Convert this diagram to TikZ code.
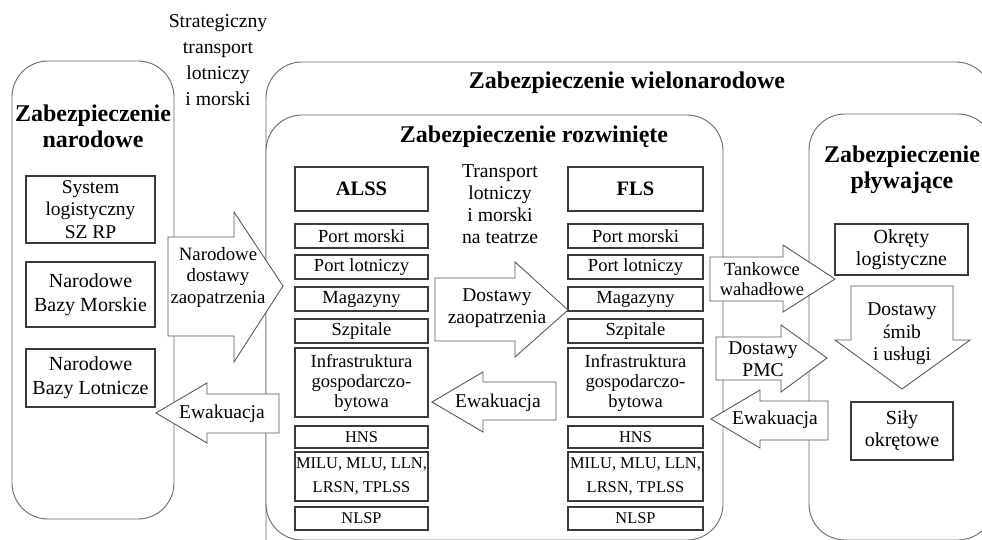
\documentclass[tikz,border=0pt]{standalone}
\usepackage{fontspec}
\setmainfont{Liberation Serif}
\definecolor{roundc}{HTML}{6A6A6A}
\definecolor{boxc}{HTML}{3A3A3A}
\definecolor{arrc}{HTML}{5A5A5A}
\newcommand\ftitle{\fontsize{24}{26}\selectfont\bfseries}
\newcommand\fbody{\fontsize{19.5}{22.5}\selectfont}
\newcommand\fcell{\fontsize{18.5}{20}\selectfont}
\newcommand\fcaps{\fontsize{16.4}{24}\selectfont}
\begin{document}
\begin{tikzpicture}[x=1pt,y=-1pt,
  panel/.style={draw=roundc, line width=0.9pt, fill=white, rounded corners=36pt},
  cell/.style={draw=boxc, line width=1.1pt, fill=white, inner sep=0pt, align=center, font=\fcell},
  blockarrow/.style={draw=arrc, line width=0.9pt, fill=white, line join=miter},
  txt/.style={inner sep=0pt, align=center}
]
\useasboundingbox (0,0) rectangle (982,540);
% rounded panels
\draw[panel] (266,62) rectangle (992,580);
\draw[panel] (266,115) rectangle (723,540);
\draw[panel] (809,114) rectangle (994,540);
\draw[panel] (12,61) rectangle (174,519);

% titles
\node[txt, font=\ftitle] (tnar) at (93,126.5) {Zabezpieczenie\\narodowe};
\node[txt, font=\ftitle] (twiel) at (627,83) {Zabezpieczenie wielonarodowe};
\node[txt, font=\ftitle] (trozw) at (534,137) {Zabezpieczenie rozwinięte};
\node[txt, font=\ftitle, text depth=0pt] (tplyw) at (902,167) {Zabezpieczenie\\pływające};

% free texts
\node[txt, font=\fontsize{19.7}{26}\selectfont] (strat) at (218,60) {Strategiczny\\transport\\lotniczy\\i morski};
\node[txt, font=\fontsize{19.7}{22}\selectfont] (teatr) at (500,204) {Transport\\lotniczy\\i morski\\na teatrze};

% left panel boxes
\node[cell, font=\fontsize{19.5}{22.5}\selectfont, minimum width=129pt, minimum height=67pt] (sys) at (90.5,209.5) {System\\logistyczny\\SZ RP};
\node[cell, font=\fontsize{20}{24}\selectfont, minimum width=129pt, minimum height=65pt] (nbm) at (90.5,294.5) {Narodowe\\Bazy Morskie};
\node[cell, font=\fontsize{20}{24}\selectfont, minimum width=129pt, minimum height=58pt] (nbl) at (90.5,378) {Narodowe\\Bazy Lotnicze};

% ALSS column
\node[cell, font=\fontsize{20.5}{22}\selectfont\bfseries, minimum width=133pt, minimum height=44pt] (alss) at (361.5,189) {ALSS};
\node[cell, minimum width=133pt, minimum height=24pt] (apm) at (361.5,236) {Port morski};
\node[cell, minimum width=133pt, minimum height=24pt] (apl) at (361.5,267) {Port lotniczy};
\node[cell, minimum width=133pt, minimum height=24pt] (amag) at (361.5,299) {Magazyny};
\node[cell, minimum width=133pt, minimum height=24pt] (aszp) at (361.5,331) {Szpitale};
\node[cell, minimum width=133pt, minimum height=69pt] (ainf) at (361.5,382.5) {Infrastruktura\\gospodarczo-\\bytowa};
\node[cell, font=\fcaps, minimum width=133pt, minimum height=22pt] (ahns) at (361.5,437) {HNS};
\node[cell, font=\fcaps, minimum width=133pt, minimum height=49pt] (amilu) at (361.5,476.5) {MILU, MLU, LLN,\\LRSN, TPLSS};
\node[cell, font=\fcaps, minimum width=133pt, minimum height=23pt] (anlsp) at (361.5,518.5) {NLSP};

% FLS column
\node[cell, font=\fontsize{20.5}{22}\selectfont\bfseries, minimum width=135pt, minimum height=44pt] (fls) at (635.5,189) {FLS};
\node[cell, minimum width=135pt, minimum height=24pt] (fpm) at (635.5,236) {Port morski};
\node[cell, minimum width=135pt, minimum height=24pt] (fpl) at (635.5,267) {Port lotniczy};
\node[cell, minimum width=135pt, minimum height=24pt] (fmag) at (635.5,299) {Magazyny};
\node[cell, minimum width=135pt, minimum height=24pt] (fszp) at (635.5,331) {Szpitale};
\node[cell, minimum width=135pt, minimum height=69pt] (finf) at (635.5,382.5) {Infrastruktura\\gospodarczo-\\bytowa};
\node[cell, font=\fcaps, minimum width=135pt, minimum height=22pt] (fhns) at (635.5,437) {HNS};
\node[cell, font=\fcaps, minimum width=135pt, minimum height=49pt] (fmilu) at (635.5,476.5) {MILU, MLU, LLN,\\LRSN, TPLSS};
\node[cell, font=\fcaps, minimum width=135pt, minimum height=23pt] (fnlsp) at (635.5,518.5) {NLSP};

% floating panel boxes
\node[cell, font=\fontsize{20}{22}\selectfont, minimum width=133pt, minimum height=51pt] (okr) at (901.5,249.5) {Okręty\\logistyczne};
\node[cell, font=\fontsize{20}{22}\selectfont, minimum width=102pt, minimum height=58pt] (sily) at (902,431) {Siły\\okrętowe};

% block arrows
\draw[blockarrow] (168,237) -- (234,237) -- (234,212) -- (283,286) -- (234,362) -- (234,336) -- (168,336) -- cycle;
\node[txt, font=\fontsize{18.8}{21.5}\selectfont] (a1) at (218,277) {Narodowe\\dostawy\\zaopatrzenia};

\draw[blockarrow] (279,394) -- (207,394) -- (207,383) -- (156,413) -- (207,443) -- (207,433) -- (279,433) -- cycle;
\node[txt, font=\fontsize{19.5}{22}\selectfont] (a2) at (222,414) {Ewakuacja};

\draw[blockarrow] (435,278) -- (515,278) -- (515,262) -- (568,310) -- (515,357) -- (515,341) -- (435,341) -- cycle;
\node[txt, font=\fontsize{19.5}{22}\selectfont] (a3) at (497,308) {Dostawy\\zaopatrzenia};

\draw[blockarrow] (556,382) -- (483,382) -- (483,372) -- (432,402) -- (483,432) -- (483,420) -- (556,420) -- cycle;
\node[txt, font=\fontsize{19.5}{22}\selectfont] (a4) at (498,403) {Ewakuacja};

\draw[blockarrow] (710,257) -- (783,257) -- (783,245) -- (835,279) -- (783,312) -- (783,301) -- (710,301) -- cycle;
\node[txt, font=\fontsize{18.5}{20.5}\selectfont] (a5) at (762,279) {Tankowce\\wahadłowe};

\draw[blockarrow] (716,337) -- (781,337) -- (781,325) -- (827,358) -- (781,392) -- (781,380) -- (716,380) -- cycle;
\node[txt, font=\fontsize{19.5}{22}\selectfont] (a6) at (763,359) {Dostawy\\PMC};

\draw[blockarrow] (828,401) -- (760,401) -- (760,390) -- (711,419) -- (760,448) -- (760,440) -- (828,440) -- cycle;
\node[txt, font=\fontsize{19.5}{22}\selectfont] (a7) at (775,420) {Ewakuacja};

\draw[blockarrow] (851,286) -- (953,286) -- (953,340) -- (970,340) -- (902,389) -- (835,340) -- (851,340) -- cycle;
\node[txt, font=\fontsize{19.5}{22.5}\selectfont] (a8) at (902,334) {Dostawy\\śmib\\i usługi};
\end{tikzpicture}
\end{document}
